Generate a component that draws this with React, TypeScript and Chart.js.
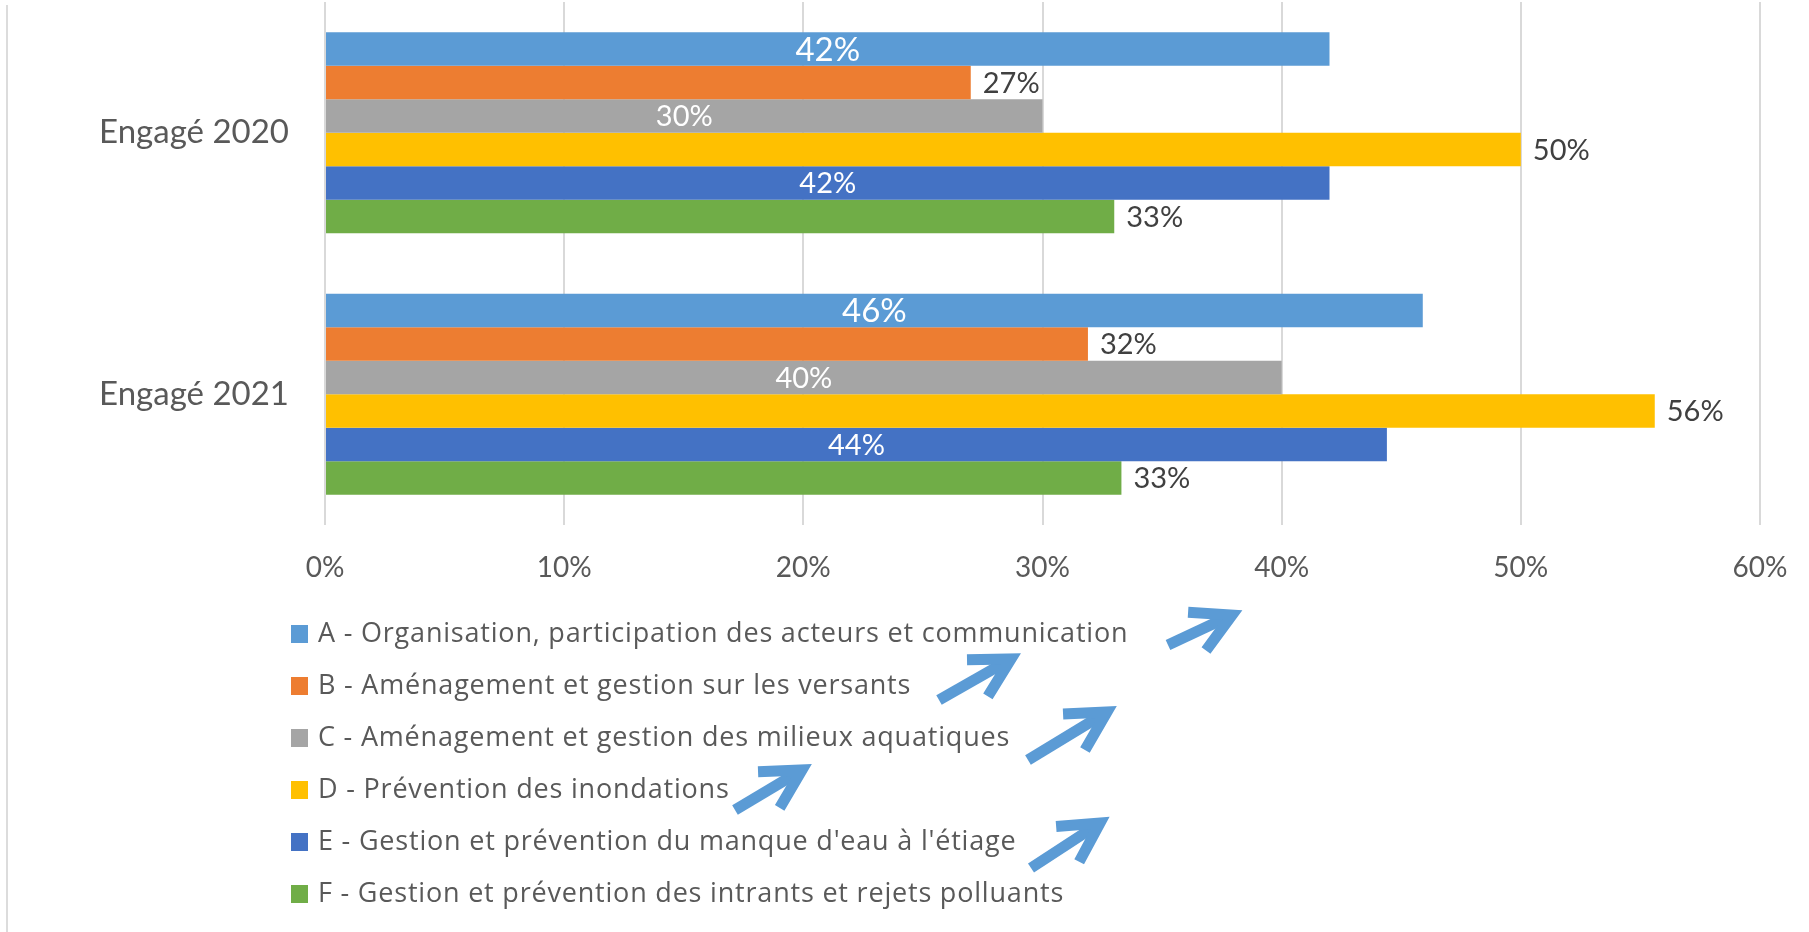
import React, { useEffect, useRef } from "react";
import { Chart, registerables } from "chart.js";

Chart.register(...registerables);

// ---------- data ----------
const categories = ["Engagé 2020", "Engagé 2021"];
const seriesNames = [
  "A - Organisation, participation des acteurs et communication",
  "B - Aménagement et gestion sur les versants",
  "C - Aménagement et gestion des milieux aquatiques",
  "D - Prévention des inondations",
  "E - Gestion et prévention du manque d'eau à l'étiage",
  "F - Gestion et prévention des intrants et rejets polluants",
];
const seriesA = [42, 45.9];
const seriesB = [27, 31.9];
const seriesC = [30, 40];
const seriesD = [50, 55.6];
const seriesE = [42, 44.4];
const seriesF = [33, 33.3];
const xTickValues = [0, 10, 20, 30, 40, 50, 60];

// ---------- styles ----------
const W = 1809;
const H = 932;
const FONT = "Lato, 'Open Sans', 'Noto Sans', sans-serif";
const LEGEND_FONT_FAMILY = "'Open Sans', Lato, 'Noto Sans', sans-serif";
const TEXT = "#595959";
const LABEL_DARK = "#404040";
const GRID = "#D9D9D9";
const colors = ["#5B9BD5", "#ED7D31", "#A5A5A5", "#FFC000", "#4472C4", "#70AD47"];
const labelInside = [true, false, true, false, true, false];
const labelSize = [33, 29, 29, 29, 29, 29];

const LEGEND_X = 291;
const LEGEND_Y0 = 634;
const LEGEND_ROW = 52;
const LEGEND_BOX = 18;
const LEGEND_TEXT_X = 318;
const LEGEND_FONT = 27;

// hand-drawn annotation arrows: [tailX, tailY, tipX, tipY]
const arrowAnnotations: [number, number, number, number][] = [
  [1168, 645, 1232, 615],
  [939, 700, 1011, 659],
  [1028, 760, 1107, 712],
  [735, 810, 802, 770],
  [1031, 868, 1100, 823],
];

const dataLabelPlugin = {
  id: "dataLabels",
  afterDatasetsDraw(chart: any) {
    const ctx = chart.ctx;
    chart.data.datasets.forEach((ds: any, di: number) => {
      const meta = chart.getDatasetMeta(di);
      meta.data.forEach((bar: any, i: number) => {
        const v = ds.data[i];
        const p = bar.getProps(["x", "y", "base"], true);
        const txt = Math.round(v) + "%";
        ctx.save();
        ctx.font = `${labelSize[di]}px ${FONT}`;
        ctx.textBaseline = "middle";
        if (labelInside[di]) {
          ctx.fillStyle = "#FFFFFF";
          ctx.textAlign = "center";
          ctx.fillText(txt, (p.x + p.base) / 2, p.y + 1);
        } else {
          ctx.fillStyle = LABEL_DARK;
          ctx.textAlign = "left";
          ctx.fillText(txt, p.x + 12, p.y + 1);
        }
        ctx.restore();
      });
    });
  },
};

const legendPlugin = {
  id: "stackedLegend",
  afterDraw(chart: any) {
    const ctx = chart.ctx;
    ctx.save();
    ctx.font = `${LEGEND_FONT}px ${LEGEND_FONT_FAMILY}`;
    try {
      (ctx as any).letterSpacing = "0.8px";
    } catch (e) {}
    ctx.textBaseline = "middle";
    ctx.textAlign = "left";
    chart.data.datasets.forEach((ds: any, i: number) => {
      const y = LEGEND_Y0 + i * LEGEND_ROW;
      ctx.fillStyle = ds.backgroundColor;
      ctx.fillRect(LEGEND_X, y - LEGEND_BOX / 2, LEGEND_BOX - 1, LEGEND_BOX);
      ctx.fillStyle = TEXT;
      ctx.fillText(ds.label, LEGEND_TEXT_X, y);
    });
    ctx.restore();
  },
};

const decorPlugin = {
  id: "decor",
  afterDraw(chart: any) {
    const ctx = chart.ctx;
    ctx.save();
    // faint frame line at left
    ctx.strokeStyle = "#DCDCDC";
    ctx.lineWidth = 2;
    ctx.beginPath();
    ctx.moveTo(7, 5);
    ctx.lineTo(7, H);
    ctx.stroke();
    // arrows
    ctx.strokeStyle = "#5B9BD5";
    ctx.lineWidth = 11;
    ctx.lineCap = "butt";
    ctx.lineJoin = "miter";
    arrowAnnotations.forEach(([x1, y1, x2, y2]) => {
      const ang = Math.atan2(y1 - y2, x1 - x2);
      const len = 44;
      const spread = 0.5;
      ctx.beginPath();
      ctx.moveTo(x1, y1);
      ctx.lineTo(x2, y2);
      ctx.stroke();
      ctx.beginPath();
      ctx.moveTo(x2 + Math.cos(ang + spread) * len, y2 + Math.sin(ang + spread) * len);
      ctx.lineTo(x2, y2);
      ctx.lineTo(x2 + Math.cos(ang - spread) * len, y2 + Math.sin(ang - spread) * len);
      ctx.stroke();
    });
    ctx.restore();
  },
};

export default function App() {
  const ref = useRef<HTMLCanvasElement | null>(null);

  useEffect(() => {
    document.body.style.margin = "0";
    const seriesValues = [seriesA, seriesB, seriesC, seriesD, seriesE, seriesF];
    const chart = new Chart(ref.current as HTMLCanvasElement, {
      type: "bar",
      data: {
        labels: categories,
        datasets: seriesValues.map((vals, i) => ({
          label: seriesNames[i],
          data: vals,
          backgroundColor: colors[i],
          borderWidth: 0,
          categoryPercentage: 0.768,
          barPercentage: 1,
        })),
      },
      options: {
        indexAxis: "y",
        responsive: false,
        animation: false,
        devicePixelRatio: 1,
        layout: { padding: { top: 2, right: 49, bottom: 347, left: 0 } },
        scales: {
          x: {
            type: "linear",
            min: 0,
            max: 60,
            afterBuildTicks: (scale: any) => {
              scale.ticks = xTickValues.map((v) => ({ value: v }));
            },
            afterFit: (scale: any) => {
              scale.height = 60;
              scale.paddingLeft = 0;
              scale.paddingRight = 0;
            },
            ticks: {
              callback: (v: any) => v + "%",
              font: { family: FONT, size: 28 },
              color: TEXT,
              padding: 26,
              maxRotation: 0,
            },
            grid: { color: GRID, lineWidth: 2, drawTicks: false },
            border: { display: false },
          },
          y: {
            afterFit: (scale: any) => {
              scale.width = 325;
              scale.paddingTop = 0;
              scale.paddingBottom = 0;
            },
            ticks: {
              font: { family: FONT, size: 33 },
              color: TEXT,
              padding: 36,
            },
            grid: { display: false, drawTicks: false },
            border: { display: false },
          },
        },
        plugins: {
          legend: { display: false },
          tooltip: { enabled: false },
        },
      },
      plugins: [dataLabelPlugin, legendPlugin, decorPlugin],
    } as any);
    return () => chart.destroy();
  }, []);

  return (
    <div style={{ position: "fixed", left: 0, top: 0, width: W, height: H, background: "#fff" }}>
      <canvas ref={ref} width={W} height={H} style={{ width: W, height: H, display: "block" }} />
    </div>
  );
}
